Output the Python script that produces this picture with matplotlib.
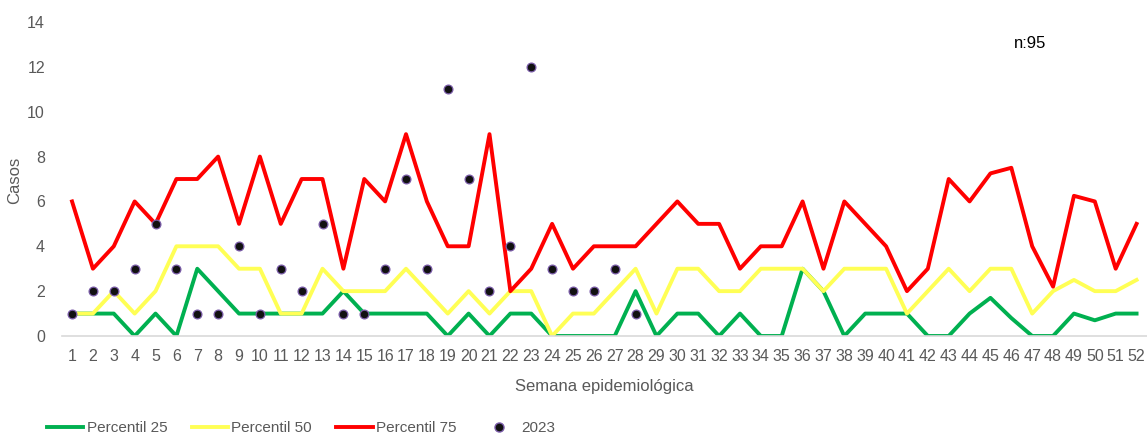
import numpy as np
import matplotlib.pyplot as plt
from matplotlib.lines import Line2D

semanas = list(range(1, 53))

p25 = [1, 1, 1, 0, 1, 0, 3, 2, 1, 1, 1, 1, 1, 2, 1, 1, 1, 1, 0, 1,
       0, 1, 1, 0, 0, 0, 0, 2, 0, 1, 1, 0, 1, 0, 0, 3, 2, 0, 1, 1,
       1, 0, 0, 1, 1.7, 0.8, 0, 0, 1, 0.7, 1, 1]
p50 = [1, 1, 2, 1, 2, 4, 4, 4, 3, 3, 1, 1, 3, 2, 2, 2, 3, 2, 1, 2,
       1, 2, 2, 0, 1, 1, 2, 3, 1, 3, 3, 2, 2, 3, 3, 3, 2, 3, 3, 3,
       1, 2, 3, 2, 3, 3, 1, 2, 2.5, 2, 2, 2.5]
p75 = [6, 3, 4, 6, 5, 7, 7, 8, 5, 8, 5, 7, 7, 3, 7, 6, 9, 6, 4, 4,
       9, 2, 3, 5, 3, 4, 4, 4, 5, 6, 5, 5, 3, 4, 4, 6, 3, 6, 5, 4,
       2, 3, 7, 6, 7.25, 7.5, 4, 2.2, 6.25, 6, 3, 5]

semanas_2023 = list(range(1, 29))
casos_2023 = [1, 2, 2, 3, 5, 3, 1, 1, 4, 1, 3, 2, 5, 1, 1, 3, 7, 3, 11, 7,
              2, 4, 12, 3, 2, 2, 3, 1]

plt.rcParams['font.family'] = ['Liberation Sans', 'DejaVu Sans']

fig = plt.figure(figsize=(11.47, 4.34), dpi=100)
ax = fig.add_axes([0.0537, 0.2258, 0.9463, 0.7235])

gris = '#595959'
ax.plot(semanas, p25, color='#00B050', lw=2.8, zorder=2)
ax.plot(semanas, p50, color='#FFFF55', lw=2.8, zorder=2)
ax.plot(semanas, p75, color='#FF0000', lw=2.8, zorder=2)
ax.scatter(semanas_2023, casos_2023, s=40, color='#111111', edgecolor='#7A5CA8',
           linewidth=0.9, zorder=3)

ax.set_xlim(0.5, 52.5)
ax.set_ylim(0, 14)
ax.set_xticks(semanas)
ax.set_yticks(range(0, 15, 2))
ax.tick_params(length=0, colors=gris, labelsize=11.5)
ax.tick_params(axis='x', pad=9)
ax.tick_params(axis='y', pad=12)
for s in ['top', 'right', 'left']:
    ax.spines[s].set_visible(False)
ax.spines['bottom'].set_color('#D9D9D9')
ax.spines['bottom'].set_linewidth(1.2)

ax.set_xlabel('Semana epidemiológica', color=gris, fontsize=12, labelpad=11)
fig.text(15 / 1147, 1 - 180 / 434, 'Casos', rotation=90, ha='center', va='center',
         color=gris, fontsize=12)
fig.text(1030 / 1147, 1 - 43 / 434, 'n:95', ha='center', va='center',
         fontsize=12, color='black')

handles = [
    Line2D([], [], color='#00B050', lw=2.8),
    Line2D([], [], color='#FFFF55', lw=2.8),
    Line2D([], [], color='#FF0000', lw=2.8),
    Line2D([], [], ls='none', marker='o', markersize=6.5, color='#111111',
           markeredgecolor='#7A5CA8'),
]
fig.legend(handles, ['Percentil 25', 'Percentil 50', 'Percentil 75', '2023'],
           loc='center left', bbox_to_anchor=(0.0355, 1 - 428 / 434), ncol=4,
           frameon=False, fontsize=11, labelcolor=gris, handlelength=2.4,
           handletextpad=0.2, columnspacing=1.6, borderaxespad=0)

fig.savefig('out.png', dpi=100)
